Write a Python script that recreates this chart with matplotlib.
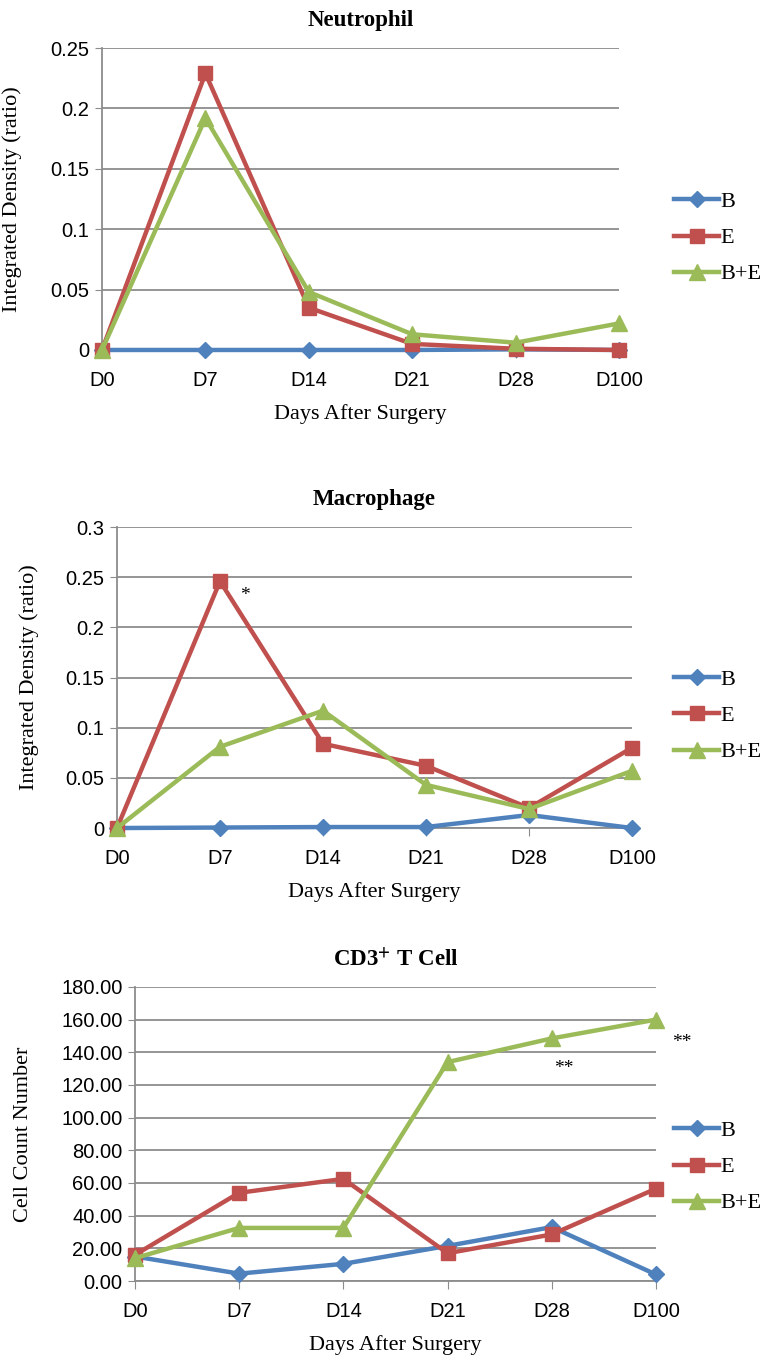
import numpy as np
import matplotlib.pyplot as plt

plt.rcParams['mathtext.fontset'] = 'stix'

days = ['D0', 'D7', 'D14', 'D21', 'D28', 'D100']
groups = ['B', 'E', 'B+E']

# Neutrophil integrated density
neu_b = [0, 0, 0, 0, 0.0005, 0]
neu_e = [0, 0.229, 0.035, 0.005, 0.001, 0]
neu_be = [0, 0.192, 0.048, 0.013, 0.006, 0.022]

# Macrophage integrated density
mac_b = [0, 0.0005, 0.001, 0.001, 0.013, 0]
mac_e = [0, 0.246, 0.084, 0.062, 0.020, 0.080]
mac_be = [0, 0.081, 0.117, 0.043, 0.019, 0.057]

# CD3+ T cell counts
cd3_b = [15, 4.5, 10.5, 21.5, 33, 4]
cd3_e = [16, 54, 62.5, 17, 28.5, 56.5]
cd3_be = [14, 32.5, 32.5, 134, 148.5, 160]

colors = ['#4F81BD', '#C0504D', '#9BBB59']
markers = ['D', 's', '^']
msizes = [8, 10, 11]

serif = ['Liberation Serif', 'DejaVu Serif']
tickfont = ['Liberation Sans Narrow', 'Liberation Sans', 'DejaVu Sans']
grid_c = '#8C8C8C'

fig = plt.figure(figsize=(7.77, 13.57), dpi=100)


def panel(rect, series, title, ylabel, ymax, ystep, fmt, leg_y, ylab_x):
    ax = fig.add_axes(rect)
    x = np.arange(len(days))
    for vals, c, m, ms, g in zip(series, colors, markers, msizes, groups):
        ax.plot(x, vals, color=c, lw=3.2, marker=m, ms=ms, mfc=c, mec=c,
                label=g, clip_on=False, zorder=3)
    ax.set_xlim(0, len(days) - 1)
    ax.set_ylim(0, ymax)
    yt = np.arange(0, ymax + ystep / 2, ystep)
    ax.set_yticks(yt)
    ax.set_yticklabels([fmt(v) for v in yt], family=tickfont, fontsize=14.5)
    ax.set_xticks(x)
    ax.set_xticklabels(days, family=tickfont, fontsize=14.5)
    ax.yaxis.grid(True, color=grid_c, lw=1.3)
    ax.set_axisbelow(True)
    for s in ['top', 'right']:
        ax.spines[s].set_visible(False)
    ax.spines['left'].set_color(grid_c)
    ax.spines['bottom'].set_color(grid_c)
    ax.spines['left'].set_linewidth(1.3)
    ax.spines['bottom'].set_linewidth(1.3)
    ax.tick_params(axis='x', length=6, color=grid_c, pad=9)
    ax.tick_params(axis='y', length=5, color=grid_c, pad=4)
    ax.set_title(title, family=serif, fontsize=16.5, fontweight='bold', pad=16)
    ax.set_xlabel('Days After Surgery', family=serif, fontsize=16, labelpad=10)
    ax.set_ylabel(ylabel, family=serif, fontsize=16)
    ax.yaxis.set_label_coords(ylab_x, rect[1] + rect[3] / 2,
                              transform=fig.transFigure)
    ax.legend(loc='center left', bbox_to_anchor=(0.868, leg_y),
              bbox_transform=fig.transFigure, frameon=False,
              prop={'family': serif, 'size': 16}, handlelength=2.0,
              handletextpad=0.05, labelspacing=0.7, borderpad=0,
              borderaxespad=0)
    return ax


def ratio_fmt(v):
    return ('%g' % round(v, 2))


ax1 = panel([0.1313, 0.7421, 0.6654, 0.2225], [neu_b, neu_e, neu_be],
            'Neutrophil', 'Integrated Density (ratio)', 0.25, 0.05,
            ratio_fmt, 0.8246, 0.028)

ax2 = panel([0.1506, 0.3898, 0.6628, 0.2218], [mac_b, mac_e, mac_be],
            'Macrophage', 'Integrated Density (ratio)', 0.3, 0.05,
            ratio_fmt, 0.4724, 0.05)
ax2.text(1.24, 0.232, '*', ha='center', va='center', fontsize=14,
         family=serif)

ax3 = panel([0.1737, 0.0560, 0.6705, 0.2167], [cd3_b, cd3_e, cd3_be],
            'CD3$^{\\mathbf{+}}$ T Cell', 'Cell Count Number', 180, 20,
            lambda v: '%.2f' % v, 0.14, 0.043)
ax3.text(4.12, 130, '**', ha='center', va='center', fontsize=14,
         family=serif, clip_on=False)
ax3.text(5.25, 146, '**', ha='center', va='center', fontsize=14,
         family=serif, clip_on=False)

fig.savefig('out.png', dpi=100)
